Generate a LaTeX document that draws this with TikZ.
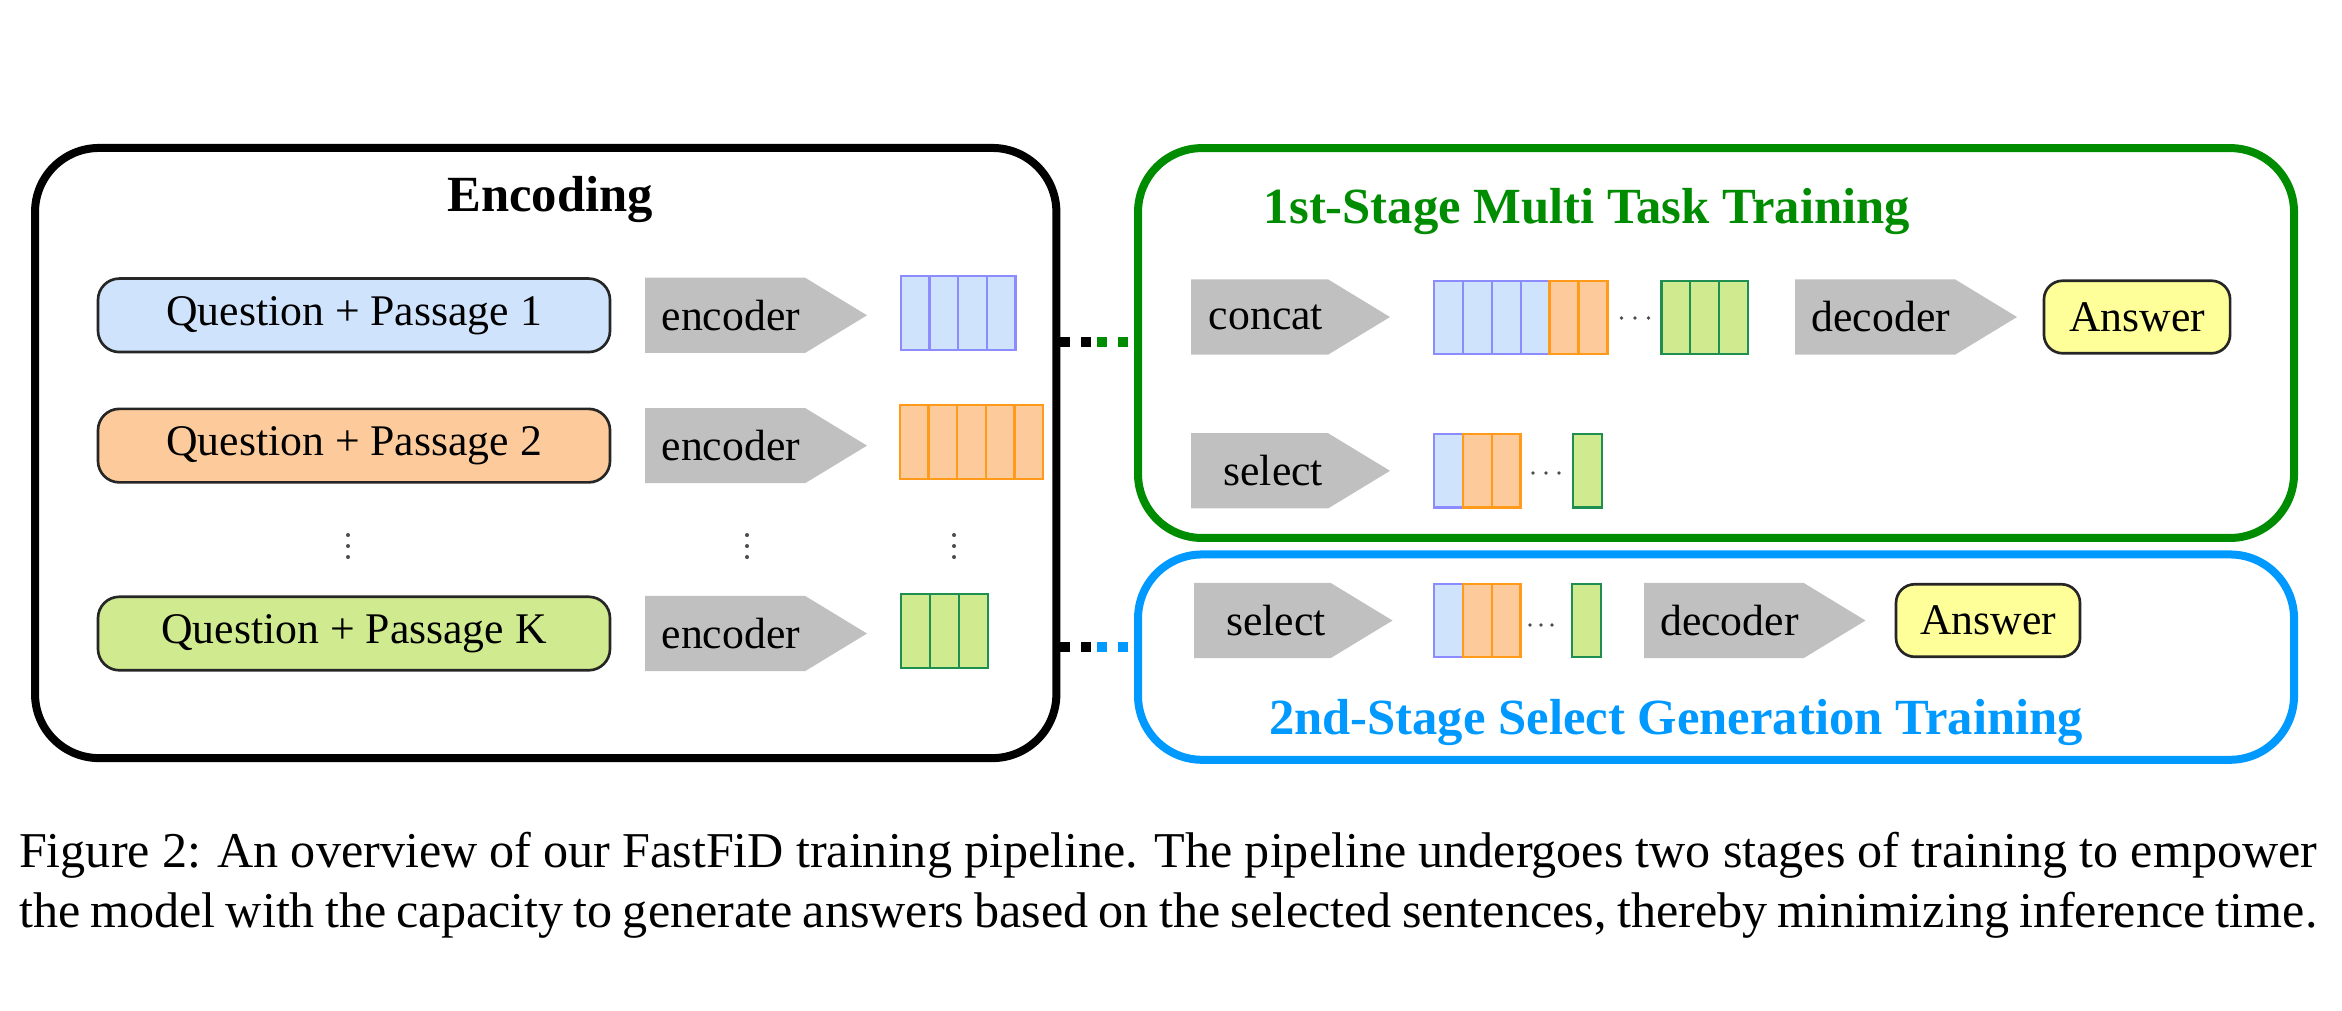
\documentclass[tikz,border=0pt]{standalone}
\usepackage{fontspec}
\setmainfont{Liberation Serif}
\usetikzlibrary{backgrounds}
\definecolor{qblue}{HTML}{CFE3FD}
\definecolor{qorange}{HTML}{FDCB9B}
\definecolor{qgreen}{HTML}{CFEA8F}
\definecolor{lineblue}{HTML}{8C8CFF}
\definecolor{lineorange}{HTML}{FF9A1A}
\definecolor{linegreen}{HTML}{1E8F50}
\definecolor{gategray}{HTML}{C0C0C0}
\definecolor{ansyellow}{HTML}{FFFF99}
\definecolor{stagegreen}{HTML}{008C00}
\definecolor{stageblue}{HTML}{0099FF}
\tikzset{
  every node/.style={font=\fontsize{8.2}{9.8}\selectfont},
  frame/.style={draw,rounded corners=12pt,line width=1.5pt,inner sep=0pt},
  qbox/.style={draw=black!85,line width=.5pt,rounded corners=4pt,
    minimum width=96pt,minimum height=13.78pt,inner sep=0pt},
  gate/.style={anchor=west,inner xsep=.75pt,inner ysep=0pt,
    minimum height=13.7pt,align=right,text width=#1},
  answer/.style={draw=black!85,line width=.5pt,fill=ansyellow,
    rounded corners=3.5pt,minimum height=13.6pt,inner sep=0pt},
  title/.style={font=\fontsize{9.5}{11}\selectfont\bfseries,inner sep=0pt,anchor=base},
  bcell/.style={fill=qblue,draw=lineblue,line width=.45pt},
  ocell/.style={fill=qorange,draw=lineorange,line width=.45pt},
  gcell/.style={fill=qgreen,draw=linegreen,line width=.45pt},
  link/.style={line width=1.875pt,dash pattern=on 1.875pt off 2pt},
  dotmark/.style={fill=black!70},
  capline/.style={font=\fontsize{9.4}{11.25}\selectfont,inner sep=0pt,anchor=base west}
}

\begin{document}
\begin{tikzpicture}[x=0.1875pt,y=-0.1875pt]
\useasboundingbox (0,0) rectangle (2342,1010);

% frames
\node[frame,minimum width=191.5pt,minimum height=114.4pt] (enc) at (545.7,453) {};
\node[frame,draw=stagegreen,minimum width=216.75pt,minimum height=73.1pt] (s1) at (1716,343) {};
\node[frame,draw=stageblue,minimum width=216.75pt,minimum height=38.5pt] (s2) at (1716,657.1) {};

\node[title] (tenc) at (550,211) {Encoding};
\node[title,text=stagegreen] (ts1) at (1587,223) {1st-Stage Multi Task Training};
\node[title,text=stageblue] (ts2) at (1676,734) {2nd-Stage Select Generation Training};

% encoding rows
\node[qbox,fill=qblue] (q1) at (354,315.3) {Question + Passage 1};
\node[qbox,fill=qorange] (q2) at (354,445.6) {Question + Passage 2};
\node[qbox,fill=qgreen] (qK) at (354,633.5) {Question + Passage K};
\node[gate=28.125pt] (e1) at (645,315.3) {encoder};
\node[gate=28.125pt] (e2) at (645,445.6) {encoder};
\node[gate=28.125pt] (eK) at (645,633.5) {encoder};
\foreach \i in {0,...,3} \draw[bcell] ({901+\i*28.6},276) rectangle ++(28.6,74);
\foreach \i in {0,...,4} \draw[ocell] ({900+\i*28.6},405) rectangle ++(28.6,74);
\foreach \i in {0,...,2} \draw[gcell] ({901+\i*29},594) rectangle ++(29,74);
\foreach \x in {348,747,954}
  \foreach \y in {535,546,557} \fill[dotmark] (\x,\y) circle (0.38pt);

% 1st stage
\node[gate=23.81pt] (cat) at (1191,317) {concat};
\foreach \i in {0,...,3} \draw[bcell] ({1434+\i*28.9},281) rectangle ++(28.9,73);
\foreach \i in {4,5} \draw[ocell] ({1434+\i*28.9},281) rectangle ++(28.9,73);
\foreach \i in {0,...,2} \draw[gcell] ({1661.3+\i*28.9},281) rectangle ++(28.9,73);
\node[gate=28.125pt] (dec1) at (1795,317) {decoder};
\node[answer,minimum width=34.9pt] (ans1) at (2137,317) {Answer};
\node[gate=23.81pt] (sel1) at (1191,470.8) {select};
\draw[bcell] (1434,434) rectangle ++(29.2,73.5);
\foreach \i in {0,1} \draw[ocell] ({1463.2+\i*28.7},434) rectangle ++(28.7,73.5);
\draw[gcell] (1573,434) rectangle ++(29,73.5);

% 2nd stage
\node[gate=23.72pt] (sel2) at (1194,620.5) {select};
\draw[bcell] (1434,584) rectangle ++(29,73);
\foreach \i in {0,1} \draw[ocell] ({1463+\i*28.75},584) rectangle ++(28.75,73);
\draw[gcell] (1572,584) rectangle ++(29,73);
\node[gate=28.03pt] (dec2) at (1644,620.5) {decoder};
\node[answer,minimum width=34.5pt] (ans2) at (1988,620.5) {Answer};

% row dots
\foreach \x/\y in {1621.5/318,1635/318,1648.5/318,1533/473,1546/473,1559/473,
  1530/625,1541/625,1552/625}
  \fill[dotmark] (\x,\y) circle (0.36pt);

\begin{scope}[on background layer]
\foreach \g in {e1,e2,eK,cat,dec1,sel1,sel2,dec2}
  \fill[gategray] (\g.north west) -- (\g.north east) -- ([xshift=11.6pt]\g.east)
    -- (\g.south east) -- (\g.south west) -- cycle;
\end{scope}

% links between stages
\coordinate (m1) at (1097,342.3);
\coordinate (m2) at (1097,646.7);
\draw[link] (enc.east |- m1) -- (m1);
\draw[link,stagegreen] (m1) -- (s1.west |- m1);
\draw[link] (enc.east |- m2) -- (m2);
\draw[link,stageblue] (m2) -- (s2.west |- m2);

% caption
\node[capline] (cap1) at (18,867) {\makebox[430.9pt][s]{Figure 2: An overview of our FastFiD training pipeline. The pipeline undergoes two stages of training to empower}};
\node[capline] (cap2) at (18,927) {\makebox[430.9pt][s]{the model with the capacity to generate answers based on the selected sentences, thereby minimizing inference time.}};
\end{tikzpicture}
\end{document}
